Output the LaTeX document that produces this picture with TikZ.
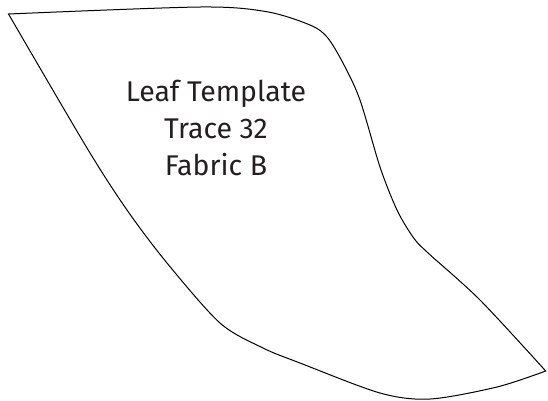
\documentclass[tikz,border=0pt]{standalone}
\usepackage{fontspec}
\setmainfont{Fira Sans}
\usetikzlibrary{positioning}
\definecolor{inkgray}{HTML}{231F20}

\begin{document}
\begin{tikzpicture}[x=1pt,y=-1pt,
        outline/.style={draw=black,line width=1pt,line join=miter},
        caption/.style={text=inkgray,font=\fontsize{28.5}{37}\selectfont,align=center}]
        \useasboundingbox (0,0) rectangle (548,400);
        \coordinate (tip)  at (8.5,14);
        \coordinate (stem) at (545.7,371);

        % leaf outline, top/right edge then bottom/left edge
        \draw[outline] (tip)
        -- plot[smooth,tension=0.5] coordinates {(8.5,14) (200,7) (266.7,11.7) (310,25) (327,37) (343,63) (360,100) (380,167) (397,210) (413,237) (427,252) (480,300) (545.7,371)}
        -- plot[smooth,tension=0.5] coordinates {(545.7,371) (497,387) (430,399) (380,393) (300,363) (263,348) (220,323) (167,263) (127,210) (87,148) (8.5,14)}
        -- cycle;

        \node[caption] (label) at (216,128.3) {Leaf Template\\Trace 32\\Fabric B};
    \end{tikzpicture}
\end{document}
